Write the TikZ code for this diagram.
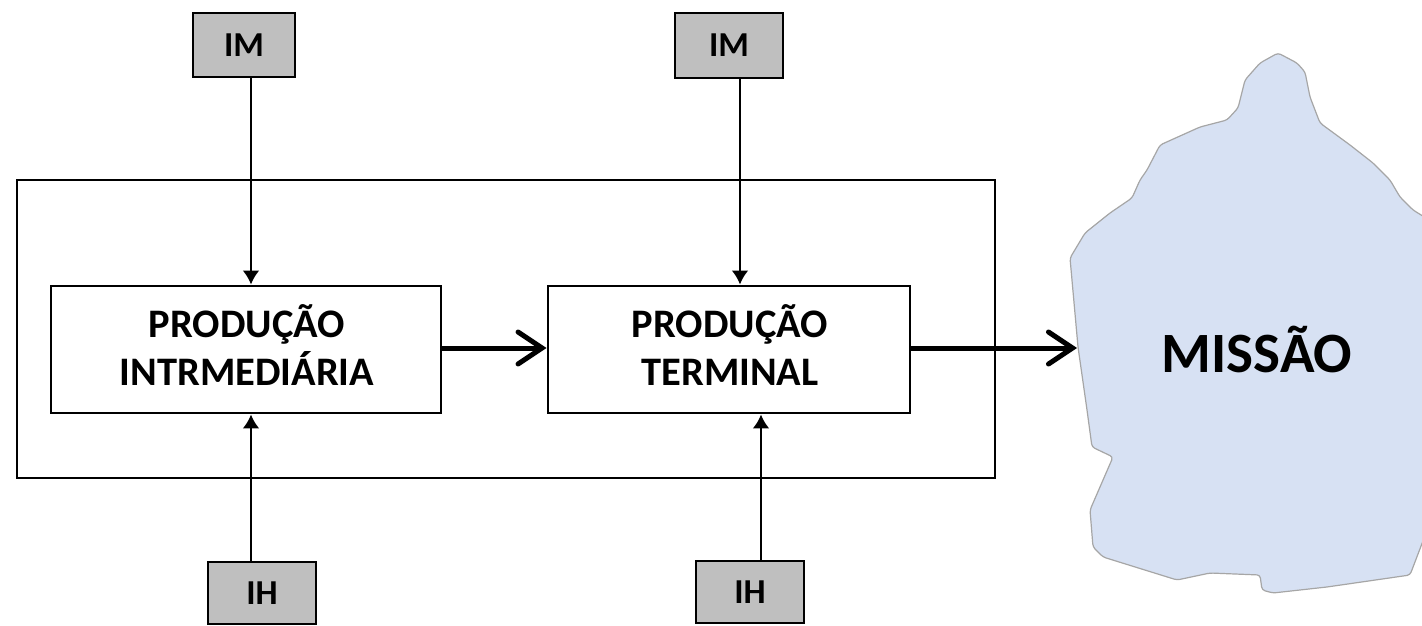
\documentclass[tikz,border=0pt]{standalone}
\usepackage{fontspec}
\setmainfont{Carlito}
\usetikzlibrary{arrows.meta}
\definecolor{boxgray}{HTML}{BFBFBF}
\definecolor{blobfill}{HTML}{D7E1F3}
\definecolor{blobline}{HTML}{A6A6A6}
\tikzset{
  prodbox/.style={draw=black, line width=2.9pt, fill=white, inner sep=0pt},
  prodtext/.style={inner sep=0pt, align=center, font=\fontsize{40.5}{48}\selectfont\bfseries},
  inbox/.style={draw=black, line width=2.6pt, fill=boxgray, inner sep=0pt,
    font=\fontsize{35}{40}\selectfont\bfseries},
  framebox/.style={draw=black, line width=2.9pt, inner sep=0pt},
  thinarrow/.style={line width=2.6pt, -{Latex[length=14pt,width=17pt]}},
  thickarrow/.style={line width=5pt, -{Straight Barb[length=24pt,width=32pt,line cap=round]}},
}
\begin{document}
\begin{tikzpicture}[x=1pt,y=-1pt]
\useasboundingbox (0,0) rectangle (1422,626);
% mission blob
\draw[fill=blobfill, draw=blobline, line width=1.2pt, rounded corners=3pt]
 (1278,53) -- (1297,63) -- (1305,72) -- (1310,97) -- (1320,123) -- (1350,145) -- (1373,163)
 -- (1390,180) -- (1400,197) -- (1413,210) -- (1426,218) -- (1426,533) -- (1410,575)
 -- (1327,587) -- (1273,593) -- (1262,590) -- (1260,575) -- (1210,573) -- (1177,580)
 -- (1103,557) -- (1093,547) -- (1090,510) -- (1113,457) -- (1092,447) -- (1087,410)
 -- (1078,347) -- (1070,258) -- (1085,233) -- (1110,213) -- (1132,198) -- (1140,180)
 -- (1147,170) -- (1160,145) -- (1200,127) -- (1227,120) -- (1238,108) -- (1240,100)
 -- (1245,80) -- (1260,63) -- cycle;
\node[font=\fontsize{57}{62}\selectfont\bfseries] (mission) at (1257,349) {MISSÃO};
\coordinate (mtip) at (1077,348);

% outer frame
\node[framebox, minimum width=978pt, minimum height=298pt] (frame) at (506,329) {};

% production boxes
\node[prodbox, minimum width=390pt, minimum height=127pt] (p1) at (246,349.5) {};
\node[prodtext] (p1t) at (247,345) {PRODUÇÃO\\INTRMEDIÁRIA};
\node[prodbox, minimum width=362pt, minimum height=127pt] (p2) at (729,349.5) {};
\node[prodtext] (p2t) at (730,345) {PRODUÇÃO\\TERMINAL};

% input boxes
\node[inbox, minimum width=102pt, minimum height=64pt] (im1) at (244,45) {IM};
\node[inbox, minimum width=108pt, minimum height=65pt] (im2) at (729,45.5) {IM};
\node[inbox, minimum width=108pt, minimum height=62pt] (ih1) at (262,593) {IH};
\node[inbox, minimum width=108pt, minimum height=62pt] (ih2) at (750,592) {IH};

\coordinate (xa) at (251,0);
\coordinate (xb) at (740,0);
\coordinate (xc) at (251,0);
\coordinate (xd) at (761,0);

\draw[thinarrow] (im1.south -| xa) -- (p1.north -| xa);
\draw[thinarrow] (im2.south -| xb) -- (p2.north -| xb);
\draw[thinarrow] (ih1.north -| xc) -- (p1.south -| xc);
\draw[thinarrow] (ih2.north -| xd) -- (p2.south -| xd);

\coordinate (ya) at (0,348);
\draw[thickarrow] (p1.east |- ya) -- (p2.west |- ya);
\draw[thickarrow] (p2.east |- ya) -- (mtip);
\end{tikzpicture}
\end{document}
